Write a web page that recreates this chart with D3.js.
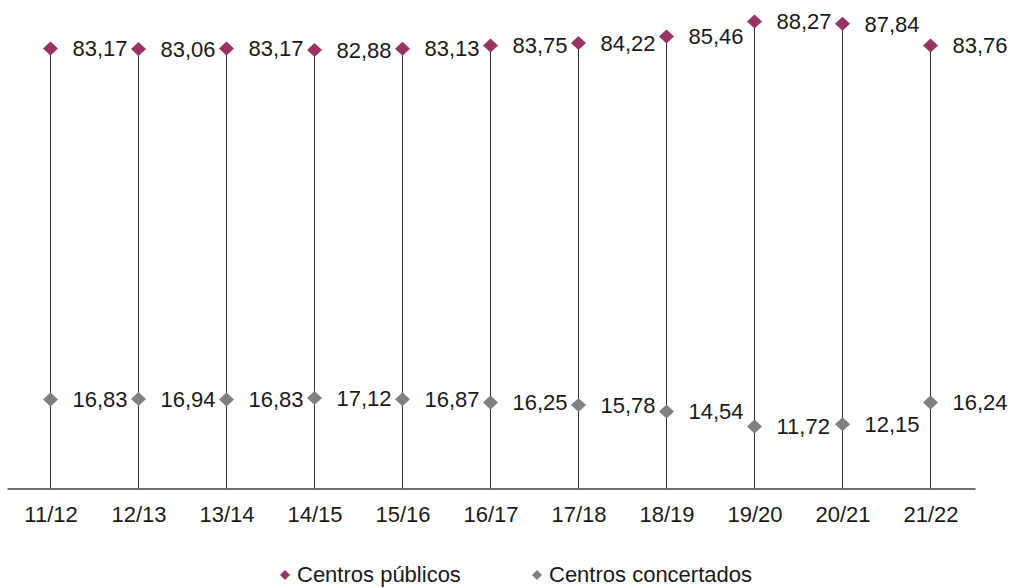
<!DOCTYPE html>
<html>
<head>
<meta charset="utf-8">
<script src="https://cdn.jsdelivr.net/npm/d3@7"></script>
<style>
  body { margin: 0; background: #fff; }
  svg { display: block; font-family: "Liberation Sans", Arial, sans-serif; }
  .lbl { font-size: 22px; fill: #1a1a1a; }
  .tick text { font-size: 22px; fill: #1a1a1a; }
</style>
</head>
<body>
<svg id="chart" width="1013" height="588"></svg>
<script>
const width = 1013, height = 588;

const years = ["11/12", "12/13", "13/14", "14/15", "15/16", "16/17", "17/18", "18/19", "19/20", "20/21", "21/22"];
const publicos = [83.17, 83.06, 83.17, 82.88, 83.13, 83.75, 84.22, 85.46, 88.27, 87.84, 83.76];
const concertados = [16.83, 16.94, 16.83, 17.12, 16.87, 16.25, 15.78, 14.54, 11.72, 12.15, 16.24];
const seriesNames = ["Centros públicos", "Centros concertados"];
const seriesColors = ["#993366", "#808080"];

const fmt = v => v.toFixed(2).replace(".", ",");

const svg = d3.select("#chart");

const x = d3.scaleBand()
    .domain(years)
    .range([7, 975])
    .padding(0);

const y = d3.scaleLinear()
    .domain([0, 90])
    .range([488.5, 12.4]);

// snap to pixel centre so the 1px lines stay crisp
const cx = d => Math.round(x(d) + x.bandwidth() / 2) - 0.5;

// diamond path centred on 0,0
function diamond(hw, hh) {
    return "M 0 " + (-hh) + " L " + hw + " 0 L 0 " + hh + " L " + (-hw) + " 0 Z";
}

// drop lines from the top marker to the axis
svg.append("g")
    .selectAll("line")
    .data(years)
    .join("line")
    .attr("x1", d => cx(d))
    .attr("x2", d => cx(d))
    .attr("y1", (d, i) => y(publicos[i]))
    .attr("y2", y(0))
    .attr("stroke", "#333")
    .attr("stroke-width", 1);

// axis
const axis = svg.append("g")
    .attr("transform", "translate(0," + y(0) + ")")
    .call(d3.axisBottom(x).tickSize(0).tickSizeOuter(0).tickPadding(18));
axis.select(".domain").attr("stroke", "#404040").attr("stroke-width", 1.3);
axis.selectAll(".tick text").attr("font-family", null).attr("font-size", null);

[publicos, concertados].forEach((vals, s) => {
    const g = svg.append("g");
    g.selectAll("path")
        .data(years)
        .join("path")
        .attr("d", diamond(7.5, 7))
        .attr("transform", (d, i) => "translate(" + cx(d) + "," + y(vals[i]) + ")")
        .attr("fill", seriesColors[s]);
    g.selectAll("text")
        .data(years)
        .join("text")
        .attr("class", "lbl")
        .attr("x", d => cx(d) + 22)
        .attr("y", (d, i) => y(vals[i]))
        .attr("dy", "0.35em")
        .text((d, i) => fmt(vals[i]));
});

// legend
const legendX = [285, 537];
const legend = svg.append("g")
    .selectAll("g")
    .data(seriesNames)
    .join("g")
    .attr("transform", (d, i) => "translate(" + legendX[i] + ",575)");
legend.append("path")
    .attr("d", diamond(5, 5))
    .attr("fill", (d, i) => seriesColors[i]);
legend.append("text")
    .attr("class", "lbl")
    .attr("x", 12)
    .attr("y", 7)
    .text(d => d);
</script>
</body>
</html>
